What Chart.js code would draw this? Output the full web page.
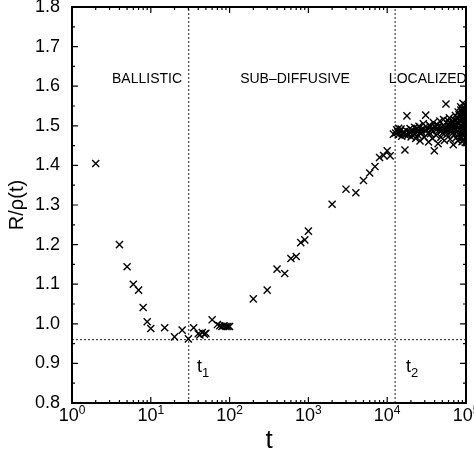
<!DOCTYPE html>
<html>
<head>
<meta charset="utf-8">
<script src="https://cdn.jsdelivr.net/npm/chart.js@4"></script>
<style>
  body { margin: 0; background: #fff; }
  canvas { display: block; }
</style>
</head>
<body>
<canvas id="myChart" width="474" height="458"></canvas>
<script>
// data
const tValues = [2, 4, 5, 6, 7, 8, 9, 10, 15, 20, 25, 30, 35, 40, 42, 45, 48, 50,
    60, 70, 75, 80, 85, 90, 95, 100,
    200, 300, 400, 500, 600, 700, 800, 900, 1000,
    2000, 3000, 4000, 5000, 6000, 7000, 8000, 9000, 10000, 10900, 12000, 13600];
const ratioValues = [1.405, 1.200, 1.144, 1.100, 1.085, 1.041, 1.005, 0.988, 0.990, 0.967, 0.984, 0.962, 0.990, 0.975, 0.972, 0.978, 0.974, 0.976,
    1.010, 0.998, 0.995, 0.993, 0.995, 0.993, 0.993, 0.993,
    1.063, 1.085, 1.138, 1.127, 1.165, 1.170, 1.205, 1.212, 1.234,
    1.302, 1.340, 1.331, 1.362, 1.381, 1.397, 1.420, 1.425, 1.437, 1.424, 1.479, 1.485];

// localized regime, dense cloud
const localT = [12800, 13200, 13900, 14500, 15000, 15600, 16100, 16800, 17300, 17800,
    18300, 18900, 19500, 20100, 20800, 21500, 22200, 23000, 23700, 24500,
    25300, 26100, 27000, 27800, 28700, 29600, 30800, 31500, 32400, 33500,
    34400, 35400, 36500, 37500, 38600, 39600, 40700, 41800, 43000, 44200,
    45400, 46600, 47900, 49200, 50500, 51800, 53200, 54600, 55700, 57100,
    58500, 60000, 61500, 63000, 64500, 66000, 67500, 69000, 70500, 72000,
    73500, 75000, 76500, 78000, 79500, 81000, 82500, 84000, 85500, 87000,
    88500, 90000, 91500, 93000, 94500, 96000, 97500, 99000, 100000,
    86000, 89000, 92000, 95000, 98000, 99500, 97000, 93500, 90500, 88000,
    84500, 80000, 77000, 74000, 71000, 68000, 65000, 62000, 59000, 56000,
    52000, 48500, 45000, 42000, 38000, 35000, 33000, 29000, 26500, 24000,
    22500, 19900, 17000, 15300, 14000,
    60500, 63500, 66500, 70000, 72500, 75500, 78500, 81500, 83000, 86500,
    87500, 89500, 91000, 92500, 94000, 95500, 96500, 98500, 99800, 100000,
    97800, 93800, 89800, 85000, 79000];
const localRatio = [1.482, 1.490, 1.478, 1.486, 1.492, 1.480, 1.484, 1.439, 1.489, 1.525,
    1.476, 1.485, 1.493, 1.472, 1.488, 1.481, 1.496, 1.468, 1.486, 1.477,
    1.499, 1.462, 1.490, 1.483, 1.505, 1.471, 1.527, 1.488, 1.494, 1.459,
    1.502, 1.480, 1.491, 1.468, 1.508, 1.437, 1.497, 1.476, 1.503, 1.455,
    1.489, 1.512, 1.471, 1.497, 1.482, 1.516, 1.463, 1.494, 1.555, 1.478,
    1.504, 1.489, 1.520, 1.466, 1.498, 1.510, 1.481, 1.452, 1.502, 1.491,
    1.526, 1.470, 1.508, 1.495, 1.535, 1.479, 1.514, 1.500, 1.548, 1.468,
    1.521, 1.489, 1.557, 1.506, 1.475, 1.532, 1.495, 1.514, 1.486,
    1.540, 1.460, 1.528, 1.545, 1.470, 1.552, 1.502, 1.518, 1.535, 1.497,
    1.525, 1.505, 1.520, 1.498, 1.515, 1.494, 1.485, 1.500, 1.513, 1.487,
    1.500, 1.487, 1.498, 1.490, 1.486, 1.497, 1.480, 1.492, 1.481, 1.494,
    1.479, 1.482, 1.477, 1.474, 1.494,
    1.495, 1.507, 1.488, 1.509, 1.480, 1.514, 1.487, 1.528, 1.492, 1.512,
    1.480, 1.543, 1.498, 1.465, 1.538, 1.508, 1.490, 1.524, 1.498, 1.540,
    1.458, 1.482, 1.518, 1.473, 1.462];

const xExponents = [0, 1, 2, 3, 4, 5];
const t1 = 30.3;
const t2 = 12600;
const minLevel = 0.96;

const regionLabels = [
    { text: 'BALLISTIC', t: 8.95 },
    { text: 'SUB\u2013DIFFUSIVE', t: 676 },
    { text: 'LOCALIZED', t: 32700 }
];

const points = [];
for (let i = 0; i < tValues.length; i++) {
    points.push({ x: tValues[i], y: ratioValues[i] });
}
for (let i = 0; i < localT.length; i++) {
    points.push({ x: localT[i], y: localRatio[i] });
}

const FONT = '"Liberation Sans", Arial, sans-serif';

// frame, inward ticks, x labels with exponents, text notes
const decorations = {
    id: 'decorations',
    afterDraw(chart) {
        const ctx = chart.ctx;
        const xs = chart.scales.x;
        const ys = chart.scales.y;
        const a = chart.chartArea;
        ctx.save();
        ctx.strokeStyle = '#000';
        ctx.fillStyle = '#000';

        // ticks
        ctx.lineWidth = 1.2;
        ctx.beginPath();
        for (let k = 0; k < 5; k++) {
            for (let m = 1; m <= 9; m++) {
                const px = xs.getPixelForValue(m * Math.pow(10, k));
                const len = m === 1 ? 6 : 3;
                ctx.moveTo(px, a.bottom); ctx.lineTo(px, a.bottom - len);
                ctx.moveTo(px, a.top); ctx.lineTo(px, a.top + len);
            }
        }
        for (let i = 0; i <= 20; i++) {
            const v = 0.8 + i * 0.05;
            const py = ys.getPixelForValue(v);
            const len = i % 2 === 0 ? 6 : 3;
            ctx.moveTo(a.left, py); ctx.lineTo(a.left + len, py);
            ctx.moveTo(a.right, py); ctx.lineTo(a.right - len, py);
        }
        ctx.stroke();

        // frame
        ctx.lineWidth = 2;
        ctx.strokeRect(a.left, a.top, a.right - a.left, a.bottom - a.top);

        // x tick labels 10^k
        for (let k of xExponents) {
            const px = xs.getPixelForValue(Math.pow(10, k));
            ctx.font = '18px ' + FONT;
            const wBase = ctx.measureText('10').width;
            ctx.font = '12px ' + FONT;
            const wExp = ctx.measureText(String(k)).width;
            const x0 = px - (wBase + wExp) / 2;
            ctx.textAlign = 'left';
            ctx.textBaseline = 'alphabetic';
            ctx.font = '18px ' + FONT;
            ctx.fillText('10', x0, a.bottom + 18);
            ctx.font = '12px ' + FONT;
            ctx.fillText(String(k), x0 + wBase, a.bottom + 11);
        }

        // region names
        ctx.font = '14px ' + FONT;
        ctx.textAlign = 'center';
        for (let lab of regionLabels) {
            ctx.fillText(lab.text, xs.getPixelForValue(lab.t), ys.getPixelForValue(1.607));
        }

        // t1, t2
        const notes = [{ s: '1', t: 38.6 }, { s: '2', t: 17300 }];
        for (let n of notes) {
            const px = xs.getPixelForValue(n.t);
            const py = ys.getPixelForValue(0.878);
            ctx.textAlign = 'left';
            ctx.font = '18px ' + FONT;
            ctx.fillText('t', px, py);
            const w = ctx.measureText('t').width;
            ctx.font = '13px ' + FONT;
            ctx.fillText(n.s, px + w, py + 5);
        }
        ctx.restore();
    }
};

var ctx = document.getElementById('myChart').getContext('2d');

var myChart = new Chart(ctx, { // eslint-disable-line
    type: 'scatter',
    data: {
        datasets: [{
            label: 'R/rho',
            data: points,
            pointStyle: 'crossRot',
            pointRadius: 5,
            pointBorderWidth: 1.4,
            borderColor: '#000',
            backgroundColor: '#000',
            order: 0
        },
        {
            data: [{ x: 1, y: minLevel }, { x: 100000, y: minLevel }],
            showLine: true,
            borderColor: '#222',
            borderWidth: 1,
            borderDash: [2, 2],
            pointRadius: 0
        },
        {
            data: [{ x: t1, y: 0.8 }, { x: t1, y: 1.8 }],
            showLine: true,
            borderColor: '#222',
            borderWidth: 1,
            borderDash: [2, 2],
            pointRadius: 0
        },
        {
            data: [{ x: t2, y: 0.8 }, { x: t2, y: 1.8 }],
            showLine: true,
            borderColor: '#222',
            borderWidth: 1,
            borderDash: [2, 2],
            pointRadius: 0
        }]
    },
    options: {
        responsive: false,
        animation: false,
        layout: { padding: { top: 7, right: 8, left: 0, bottom: 0 } },
        plugins: { legend: { display: false }, tooltip: { enabled: false } },
        scales: {
            x: {
                type: 'logarithmic',
                min: 1,
                max: 100000,
                grid: { display: false, drawTicks: false },
                border: { display: false },
                ticks: { display: false },
                title: {
                    display: true,
                    text: 't',
                    color: '#000',
                    font: { family: FONT, size: 26 },
                    padding: { top: 0, bottom: 2 }
                },
                afterFit(scale) {
                    scale.height = 55;
                    scale.paddingLeft = 0;
                    scale.paddingRight = 0;
                }
            },
            y: {
                min: 0.8,
                max: 1.8,
                grid: { display: false, drawTicks: false },
                border: { display: false },
                ticks: {
                    stepSize: 0.1,
                    padding: 12,
                    color: '#000',
                    font: { family: FONT, size: 18 },
                    callback: (v) => v.toFixed(1)
                },
                title: {
                    display: true,
                    text: 'R/\u03c1(t)',
                    color: '#000',
                    font: { family: FONT, size: 20 },
                    padding: { top: 5, bottom: 0 }
                },
                afterFit(scale) {
                    scale.width = 72;
                    scale.paddingTop = 0;
                    scale.paddingBottom = 0;
                }
            }
        }
    },
    plugins: [decorations]
});
</script>
</body>
</html>
